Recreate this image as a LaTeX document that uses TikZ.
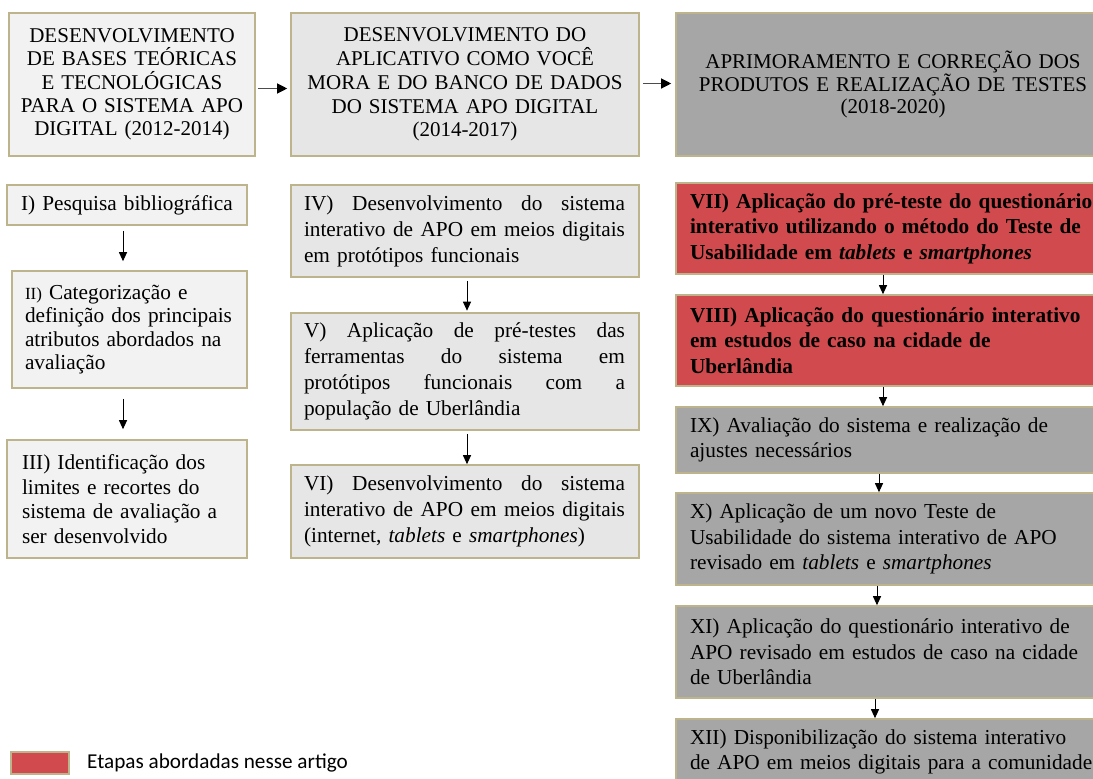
\documentclass[tikz,border=0pt]{standalone}
\usepackage{fontspec}
\setmainfont{Liberation Serif}
\newfontfamily\legfont{Carlito}
\usetikzlibrary{arrows.meta}
\definecolor{lightA}{HTML}{F2F2F2}
\definecolor{lightB}{HTML}{E7E6E6}
\definecolor{grayC}{HTML}{A6A6A6}
\definecolor{redD}{HTML}{D14B4E}
\definecolor{bordc}{HTML}{BDB48C}
\newcommand\jline[1]{\leavevmode\hbox to 321pt{#1}}
\newcommand\gap{\hspace{0pt plus 1fil}}
\begin{document}
\begin{tikzpicture}[x=1pt,y=-1pt,
  box/.style={rectangle,draw=bordc,line width=1.6pt,inner ysep=0pt,text=black},
  hbox/.style={box,inner xsep=6pt,align=center,font=\fontsize{21}{23.3}\selectfont},
  lbox/.style={box,fill=lightA,align=left,font=\fontsize{21.3}{23.8}\selectfont},
  mbox/.style={box,fill=lightB,inner xsep=13pt,text width=322pt,minimum width=348pt,align=left,font=\fontsize{21.3}{26}\selectfont},
  rbox/.style={box,inner xsep=14pt,text width=406pt,minimum width=434pt,align=left,font=\fontsize{21.3}{25.6}\selectfont},
  redbox/.style={rbox,fill=redD,font=\fontsize{21.3}{25.6}\selectfont\bfseries},
  graybox/.style={rbox,fill=grayC},
  arr/.style={line width=1pt,draw=black,-{Triangle[length=9pt,width=8pt]}},
  harr/.style={line width=1.2pt,draw=black!70,-{Triangle[length=10pt,width=10pt,color=black]}}
]
\useasboundingbox (0,0) rectangle (1093,779);
\fill[white] (0,0) rectangle (1093,779);
\clip (0,0) rectangle (1093,779);

% headers
\node[hbox,fill=lightA,text width=234pt,minimum width=246pt,minimum height=143pt] (H1) at (132,84.5)
  {DESENVOLVIMENTO\\DE BASES TEÓRICAS\\E TECNOLÓGICAS\\PARA O SISTEMA APO\\DIGITAL (2012-2014)};
\node[hbox,fill=lightB,text width=336pt,minimum width=348pt,minimum height=143pt,font=\fontsize{21}{23.8}\selectfont] (H2) at (465,84.5)
  {DESENVOLVIMENTO DO\\APLICATIVO COMO VOCÊ\\MORA E DO BANCO DE DADOS\\DO SISTEMA APO DIGITAL\\(2014-2017)};
\node[hbox,fill=grayC,text width=422pt,minimum width=434pt,minimum height=143pt,font=\fontsize{21}{22}\selectfont] (H3) at (893,84.5)
  {APRIMORAMENTO E CORREÇÃO DOS\\PRODUTOS E REALIZAÇÃO DE TESTES\\(2018-2020)};

% left column
\node[lbox,inner xsep=14pt,text width=212pt,minimum width=240pt,minimum height=40pt] (I) at (127,205)
  {I) Pesquisa bibliográfica};
\node[lbox,inner xsep=13pt,text width=209pt,minimum width=235pt,minimum height=117pt,font=\fontsize{21.3}{23.3}\selectfont] (II) at (129.5,329.5)
  {{\fontsize{17}{20}\selectfont II)} Categorização e\\definição dos principais\\atributos abordados na\\avaliação};
\node[lbox,inner xsep=15pt,text width=210pt,minimum width=240pt,minimum height=118pt,font=\fontsize{21.3}{24.5}\selectfont] (III) at (127,499)
  {III) Identificação dos\\limites e recortes do\\sistema de avaliação a\\ser desenvolvido};

% middle column
\node[mbox,minimum height=92pt] (IV) at (465,231)
  {\jline{IV)\gap Desenvolvimento\gap do\gap sistema}\\\jline{interativo\gap de\gap APO\gap em\gap meios\gap digitais}\\em protótipos funcionais};
\node[mbox,minimum height=117pt] (V) at (465,371.5)
  {\jline{V)\gap Aplicação\gap de\gap pré-testes\gap das}\\\jline{ferramentas\gap do\gap sistema\gap em}\\\jline{protótipos\gap funcionais\gap com\gap a}\\população de Uberlândia};
\node[mbox,minimum height=93pt] (VI) at (465,511.5)
  {\jline{VI)\gap Desenvolvimento\gap do\gap sistema}\\\jline{interativo\gap de\gap APO\gap em\gap meios\gap digitais}\\(internet, \textit{tablets} e \textit{smartphones})};

% right column
\node[redbox,minimum height=91pt] (VII) at (893,228.5)
  {VII) Aplicação do pré-teste do questionário\\interativo utilizando o método do Teste de\\Usabilidade em \textit{tablets} e \textit{smartphones}};
\node[redbox,minimum height=91pt] (VIII) at (893,340.5)
  {VIII) Aplicação do questionário interativo\\em estudos de caso na cidade de\\Uberlândia};
\node[graybox,minimum height=66pt] (IX) at (893,440)
  {IX) Avaliação do sistema e realização de\\ajustes necessários};
\node[graybox,minimum height=92pt] (X) at (893,539)
  {X) Aplicação de um novo Teste de\\Usabilidade do sistema interativo de APO\\revisado em \textit{tablets} e \textit{smartphones}};
\node[graybox,minimum height=92pt] (XI) at (893,652)
  {XI) Aplicação do questionário interativo de\\APO revisado em estudos de caso na cidade\\de Uberlândia};
\node[graybox,minimum height=66pt] (XII) at (893,752)
  {XII) Disponibilização do sistema interativo\\de APO em meios digitais para a comunidade};

% header arrows
\draw[harr] ([xshift=2pt,yshift=-4pt]H1.east) -- ([xshift=-3pt,yshift=-4pt]H2.west);
\draw[harr] ([xshift=3pt,yshift=1pt]H2.east) -- ([xshift=-4pt,yshift=1pt]H3.west);

% left arrows
\draw[arr,shorten <=5pt,shorten >=9pt] ([xshift=-4pt]I.south) -- ([xshift=-4pt]II.north -| I.south);
\draw[arr,shorten <=10pt,shorten >=10pt] ([xshift=-4pt]II.south -| I.south) -- ([xshift=-4pt]III.north);

% middle arrows
\draw[arr,shorten <=3pt,shorten >=1.5pt] ([xshift=2pt]IV.south) -- ([xshift=2pt]V.north);
\draw[arr,shorten <=3pt] ([xshift=2pt]V.south) -- ([xshift=2pt]VI.north);

% right arrows
\draw[arr] ([xshift=-10pt]VII.south) -- ([xshift=-10pt]VIII.north);
\draw[arr] ([xshift=-10pt]VIII.south) -- ([xshift=-10pt]IX.north);
\draw[arr] ([xshift=-14pt]IX.south) -- ([xshift=-14pt]X.north);
\draw[arr] ([xshift=-16pt]X.south) -- ([xshift=-16pt]XI.north);
\draw[arr] ([xshift=-18pt]XI.south) -- ([xshift=-18pt]XII.north);

% legend
\node[box,fill=redD,minimum width=58pt,minimum height=22pt,inner sep=0pt] (leg) at (40,763) {};
\node[anchor=west,inner sep=0pt,font=\legfont\fontsize{21.2}{24}\selectfont] (legtext) at (87,763) {Etapas abordadas nesse artigo};
\end{tikzpicture}
\end{document}
